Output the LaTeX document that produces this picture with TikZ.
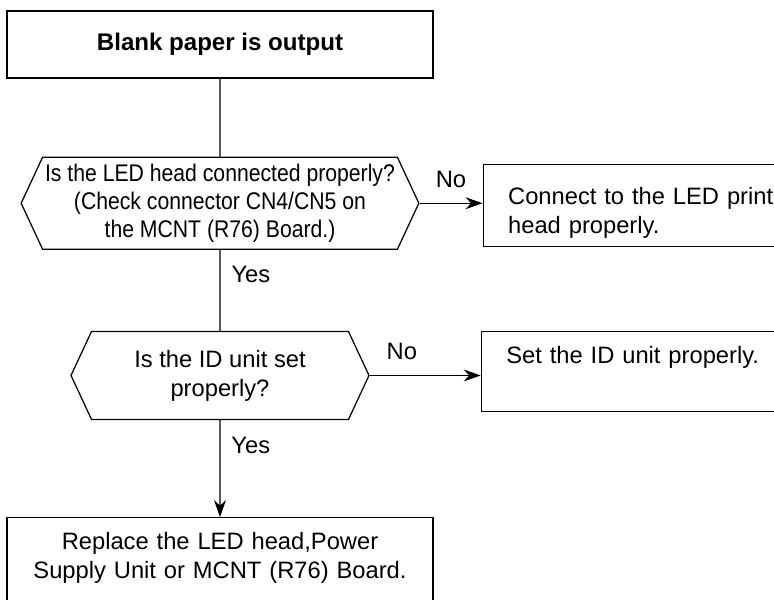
\documentclass[tikz,border=0pt]{standalone}
\usepackage{fontspec}
\setmainfont{Liberation Sans}
\newfontfamily\narrowsans[FakeStretch=0.88]{Liberation Sans}
\usetikzlibrary{arrows.meta,positioning,shapes.symbols}

\begin{document}
\begin{tikzpicture}[
  font=\fontsize{13.5}{16.5}\selectfont,
  line width=0.7pt,
  block/.style={draw, minimum width=8.52cm, minimum height=1.34cm, align=center},
  check/.style={draw, signal, signal to=east and west, signal pointer angle=130, align=center, inner xsep=0.05cm},
  fix/.style={draw, text width=5.6cm, align=left, inner xsep=0.5cm, inner ysep=0.3cm, text height=0.34cm},
  arrow/.style={-{Stealth[length=0.34cm,width=0.24cm]}}
]
\useasboundingbox (0,0) rectangle (15.48,-11.98);
\clip (0,0) rectangle (15.48,-11.98);
\node[block, font=\fontsize{13.7}{16.5}\selectfont\bfseries] (start) at (4.40,-0.89) {Blank paper is output};
\node[check, minimum width=7.88cm, minimum height=1.84cm, below=1.56cm of start,
  font=\narrowsans\fontsize{13.7}{16}\selectfont] (led)
  {Is the LED head connected properly?\\(Check connector CN4/CN5 on\\the MCNT (R76) Board.)};
\node[check, minimum width=5.96cm, minimum height=1.76cm, below=1.62cm of led] (unit)
  {Is the ID unit set\\properly?};
\node[block, text width=8.2cm, inner xsep=0.16cm, inner ysep=0.3cm, text height=0.34cm,
  text depth=1.5cm, below=1.94cm of unit] (final)
  {Replace the LED head,Power\\Supply Unit or MCNT (R76) Board.};
\node[fix, text height=0.5cm, text depth=0.54cm, right=1.26cm of led, yshift=-0.04cm] (fixled)
  {Connect to the LED print\\head properly.};
\node[fix, text depth=0.66cm, right=2.22cm of unit, yshift=0.08cm] (fixunit)
  {Set the ID unit properly.};
\draw (start) -- (led);
\draw (led) -- node[anchor=west, pos=0.3, xshift=0.1cm] {Yes} (unit);
\draw[arrow] (unit) -- node[anchor=west, pos=0.26, xshift=0.1cm] {Yes} (final);
\draw[arrow] (led.east) -- node[above=0.18cm] {No} (led.east -| fixled.west);
\draw[arrow] (unit.east) -- node[above=0.18cm, pos=0.29] {No} (unit.east -| fixunit.west);
\end{tikzpicture}
\end{document}
